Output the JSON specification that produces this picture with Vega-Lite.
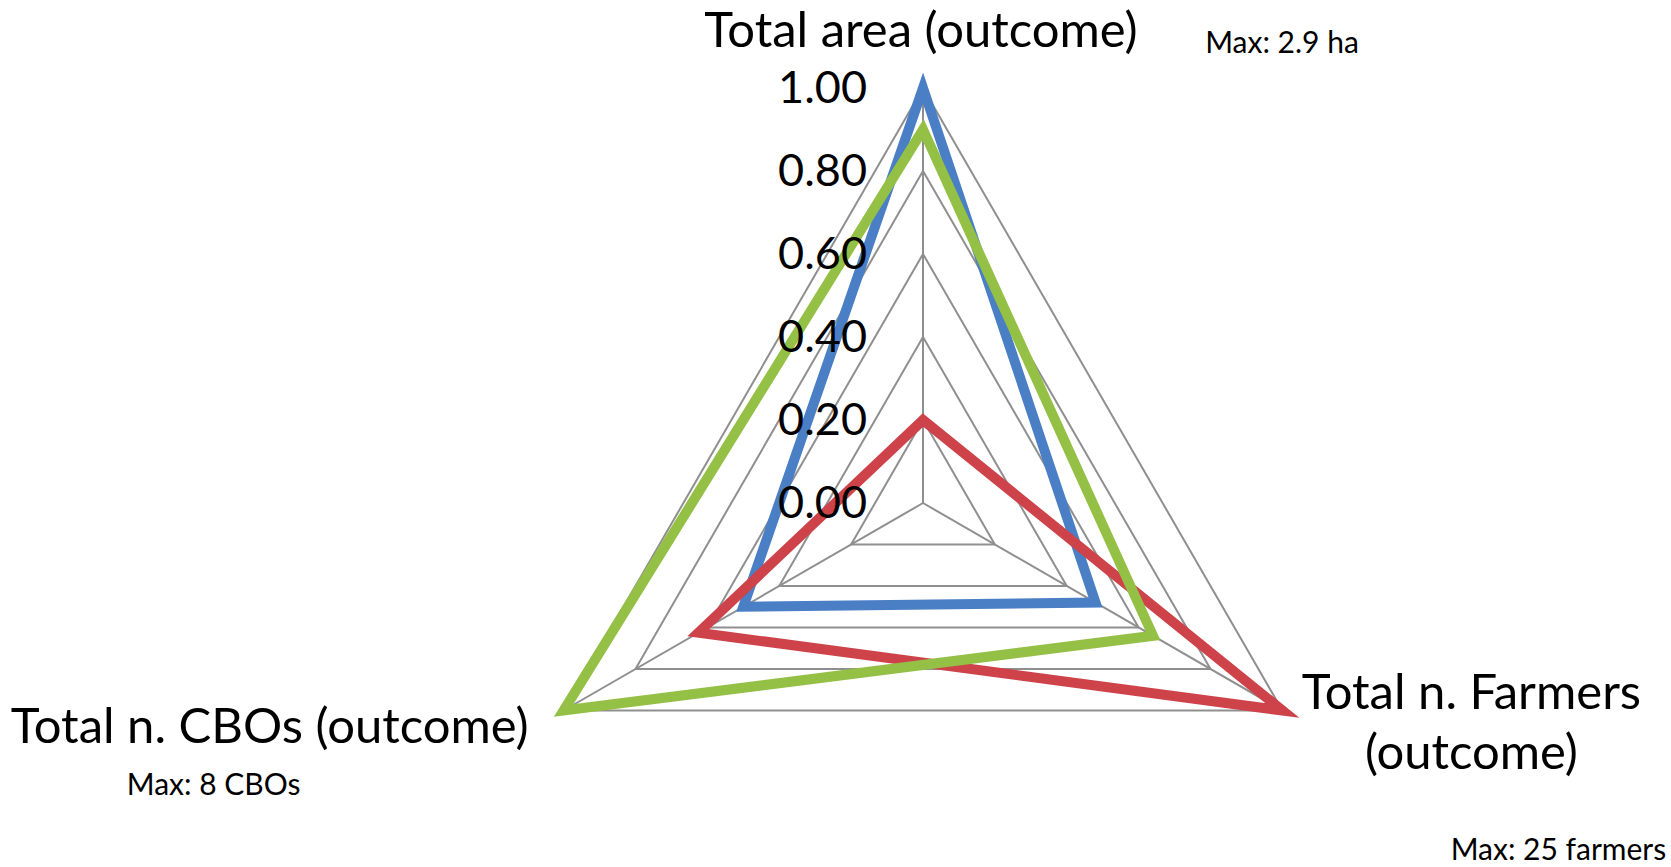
{
  "$schema": "https://vega.github.io/schema/vega-lite/v6.json",
  "width": 1671,
  "height": 867,
  "autosize": {"type": "none"},
  "padding": 0,
  "background": "white",
  "config": {"view": {"stroke": null}, "font": "Lato", "text": {"font": "Lato", "color": "black"}},
  "datasets": {
    "series": [
      {"series": "Series 1", "idx": 0, "value": 1.0},
      {"series": "Series 1", "idx": 1, "value": 0.48},
      {"series": "Series 1", "idx": 2, "value": 0.5},
      {"series": "Series 2", "idx": 0, "value": 0.2},
      {"series": "Series 2", "idx": 1, "value": 1.0},
      {"series": "Series 2", "idx": 2, "value": 0.625},
      {"series": "Series 3", "idx": 0, "value": 0.9},
      {"series": "Series 3", "idx": 1, "value": 0.64},
      {"series": "Series 3", "idx": 2, "value": 1.0}
    ],
    "grid": [
      {"level": 0.2, "idx": 0}, {"level": 0.2, "idx": 1}, {"level": 0.2, "idx": 2},
      {"level": 0.4, "idx": 0}, {"level": 0.4, "idx": 1}, {"level": 0.4, "idx": 2},
      {"level": 0.6, "idx": 0}, {"level": 0.6, "idx": 1}, {"level": 0.6, "idx": 2},
      {"level": 0.8, "idx": 0}, {"level": 0.8, "idx": 1}, {"level": 0.8, "idx": 2},
      {"level": 1.0, "idx": 0}, {"level": 1.0, "idx": 1}, {"level": 1.0, "idx": 2}
    ],
    "ticks": [
      {"level": 0.0, "idx": 0}, {"level": 0.2, "idx": 0}, {"level": 0.4, "idx": 0},
      {"level": 0.6, "idx": 0}, {"level": 0.8, "idx": 0}, {"level": 1.0, "idx": 0}
    ],
    "axes": [
      {"idx": 0, "level": 1, "name": "Total area (outcome)", "max": "Max: 2.9 ha"},
      {"idx": 1, "level": 1, "name": "Total n. Farmers\n(outcome)", "max": "Max: 25 farmers"},
      {"idx": 2, "level": 1, "name": "Total n. CBOs (outcome)", "max": "Max: 8 CBOs"}
    ]
  },
  "encoding": {
    "x": {"field": "px", "type": "quantitative", "scale": {"domain": [-2.22410, 1.80241], "nice": false, "zero": false}, "axis": null},
    "y": {"field": "py", "type": "quantitative", "scale": {"domain": [-0.87711, 1.21205], "nice": false, "zero": false}, "axis": null}
  },
  "layer": [
    {
      "data": {"name": "grid"},
      "transform": [
        {"calculate": "PI/2 - datum.idx*2*PI/3", "as": "ang"},
        {"calculate": "datum.level*cos(datum.ang)", "as": "px"},
        {"calculate": "datum.level*sin(datum.ang)", "as": "py"}
      ],
      "mark": {"type": "line", "interpolate": "linear-closed", "stroke": "#8f8f8f", "strokeWidth": 2},
      "encoding": {
        "detail": {"field": "level", "type": "nominal"},
        "order": {"field": "idx", "type": "quantitative"}
      }
    },
    {
      "data": {"name": "grid"},
      "transform": [
        {"filter": "datum.level == 1"},
        {"calculate": "PI/2 - datum.idx*2*PI/3", "as": "ang"},
        {"calculate": "datum.level*cos(datum.ang)", "as": "px"},
        {"calculate": "datum.level*sin(datum.ang)", "as": "py"}
      ],
      "mark": {"type": "rule", "stroke": "#8f8f8f", "strokeWidth": 2},
      "encoding": {
        "x2": {"datum": 0},
        "y2": {"datum": 0}
      }
    },
    {
      "data": {"name": "series"},
      "transform": [
        {"calculate": "PI/2 - datum.idx*2*PI/3", "as": "ang"},
        {"calculate": "datum.value*cos(datum.ang)", "as": "px"},
        {"calculate": "datum.value*sin(datum.ang)", "as": "py"}
      ],
      "mark": {"type": "line", "interpolate": "linear-closed", "strokeWidth": 10, "strokeJoin": "miter"},
      "encoding": {
        "color": {"field": "series", "type": "nominal", "scale": {"domain": ["Series 1", "Series 2", "Series 3"], "range": ["#4a7ec5", "#cd4349", "#94c046"]}, "legend": null},
        "order": {"field": "idx", "type": "quantitative"}
      }
    },
    {
      "data": {"name": "ticks"},
      "transform": [
        {"calculate": "0", "as": "px"},
        {"calculate": "datum.level", "as": "py"}
      ],
      "mark": {"type": "text", "align": "right", "baseline": "middle", "dx": -56, "dy": 1, "fontSize": 45},
      "encoding": {
        "text": {"field": "level", "type": "quantitative", "format": ".2f"}
      }
    },
    {
      "data": {"name": "axes"},
      "transform": [
        {"filter": "datum.idx == 0"},
        {"calculate": "PI/2 - datum.idx*2*PI/3", "as": "ang"},
        {"calculate": "datum.level*cos(datum.ang)", "as": "px"},
        {"calculate": "datum.level*sin(datum.ang)", "as": "py"}
      ],
      "layer": [
        {
          "mark": {"type": "text", "align": "center", "baseline": "alphabetic", "dx": -2, "dy": -41, "fontSize": 49},
          "encoding": {"text": {"field": "name"}}
        },
        {
          "mark": {"type": "text", "align": "center", "baseline": "alphabetic", "dx": 359, "dy": -35, "fontSize": 30},
          "encoding": {"text": {"field": "max"}}
        }
      ]
    },
    {
      "data": {"name": "axes"},
      "transform": [
        {"filter": "datum.idx == 1"},
        {"calculate": "PI/2 - datum.idx*2*PI/3", "as": "ang"},
        {"calculate": "datum.level*cos(datum.ang)", "as": "px"},
        {"calculate": "datum.level*sin(datum.ang)", "as": "py"}
      ],
      "layer": [
        {
          "mark": {"type": "text", "align": "center", "baseline": "alphabetic", "dx": 189, "dy": -1, "fontSize": 49, "lineBreak": "\n", "lineHeight": 60},
          "encoding": {"text": {"field": "name"}}
        },
        {
          "mark": {"type": "text", "align": "center", "baseline": "alphabetic", "dx": 276, "dy": 150, "fontSize": 30},
          "encoding": {"text": {"field": "max"}}
        }
      ]
    },
    {
      "data": {"name": "axes"},
      "transform": [
        {"filter": "datum.idx == 2"},
        {"calculate": "PI/2 - datum.idx*2*PI/3", "as": "ang"},
        {"calculate": "datum.level*cos(datum.ang)", "as": "px"},
        {"calculate": "datum.level*sin(datum.ang)", "as": "py"}
      ],
      "layer": [
        {
          "mark": {"type": "text", "align": "right", "baseline": "alphabetic", "dx": -35, "dy": 33, "fontSize": 49},
          "encoding": {"text": {"field": "name"}}
        },
        {
          "mark": {"type": "text", "align": "center", "baseline": "alphabetic", "dx": -350, "dy": 85, "fontSize": 30},
          "encoding": {"text": {"field": "max"}}
        }
      ]
    }
  ]
}
